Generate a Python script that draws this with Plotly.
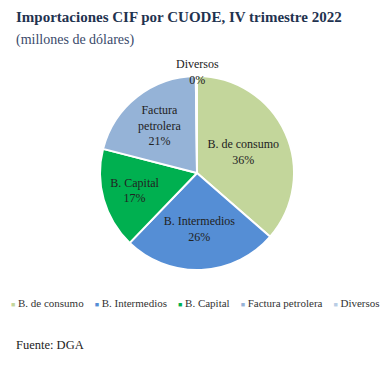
import plotly.graph_objects as go

labels = ["B. de consumo", "B. Intermedios", "B. Capital", "Factura petrolera", "Diversos"]
text_labels = ["B. de consumo", "B. Intermedios", "B. Capital", "Factura<br>petrolera", "Diversos"]
values = [36.4, 25.8, 16.8, 20.8, 0.2]
colors = ["#C3D69B", "#558ED5", "#00B050", "#95B3D7", "#B9CDE5"]

title = "Importaciones CIF por CUODE, IV trimestre 2022"
subtitle = "(millones de dólares)"
source = "Fuente: DGA"

# page body has an 8px margin; the figure is sized to fit the 392x371 window
OFF = 8
W, H = 392 - OFF, 371 - OFF
FONT = "Liberation Serif"


def px(x):
    return (x - OFF) / W


def py(y):
    return 1 - (y - OFF) / H


cx, cy, r = 197, 173, 97

total = sum(values)
slice_text = [f"{t}<br>{v / total:.0%}" for t, v in zip(text_labels, values)]
slice_text[-1] = ""  # tiny slice labelled with annotation above the pie

fig = go.Figure(go.Pie(
    labels=labels,
    values=values,
    text=slice_text,
    textinfo="text",
    textposition="inside",
    insidetextorientation="horizontal",
    sort=False,
    direction="clockwise",
    rotation=0,
    marker=dict(colors=colors, line=dict(color="white", width=2)),
    textfont=dict(family=FONT, size=12, color="#222222"),
    domain=dict(x=[px(cx - r), px(cx + r)], y=[py(cy + r), py(cy - r)]),
    showlegend=False,
    hoverinfo="label+percent",
))

legend_text = "    ".join(
    f'<span style="color:{c};font-size:7px">■</span> {l}' for l, c in zip(labels, colors)
)

fig.update_layout(
    width=W, height=H,
    margin=dict(l=0, r=0, t=0, b=0),
    paper_bgcolor="white",
    plot_bgcolor="white",
    font=dict(family=FONT, color="#222222"),
    annotations=[
        dict(text="<b>" + title + "</b>", x=px(14), y=py(17), xref="paper", yref="paper",
             xanchor="left", yanchor="middle", showarrow=False,
             font=dict(family=FONT, size=15, color="#1F3350")),
        dict(text=subtitle, x=px(14), y=py(40), xref="paper", yref="paper",
             xanchor="left", yanchor="middle", showarrow=False,
             font=dict(family=FONT, size=14, color="#3A4A6B")),
        dict(text=f"{labels[-1]}<br>{values[-1] / total:.0%}", x=px(cx), y=py(72),
             xref="paper", yref="paper", xanchor="center", yanchor="middle", showarrow=False,
             font=dict(family=FONT, size=12, color="#222222")),
        dict(text=legend_text, x=px(195), y=py(303), xref="paper", yref="paper",
             xanchor="center", yanchor="middle", showarrow=False,
             font=dict(family=FONT, size=11, color="#333333")),
        dict(text=source, x=px(14), y=py(345), xref="paper", yref="paper",
             xanchor="left", yanchor="middle", showarrow=False,
             font=dict(family=FONT, size=12.5, color="#222222")),
    ],
)

fig.write_html("out.html")
